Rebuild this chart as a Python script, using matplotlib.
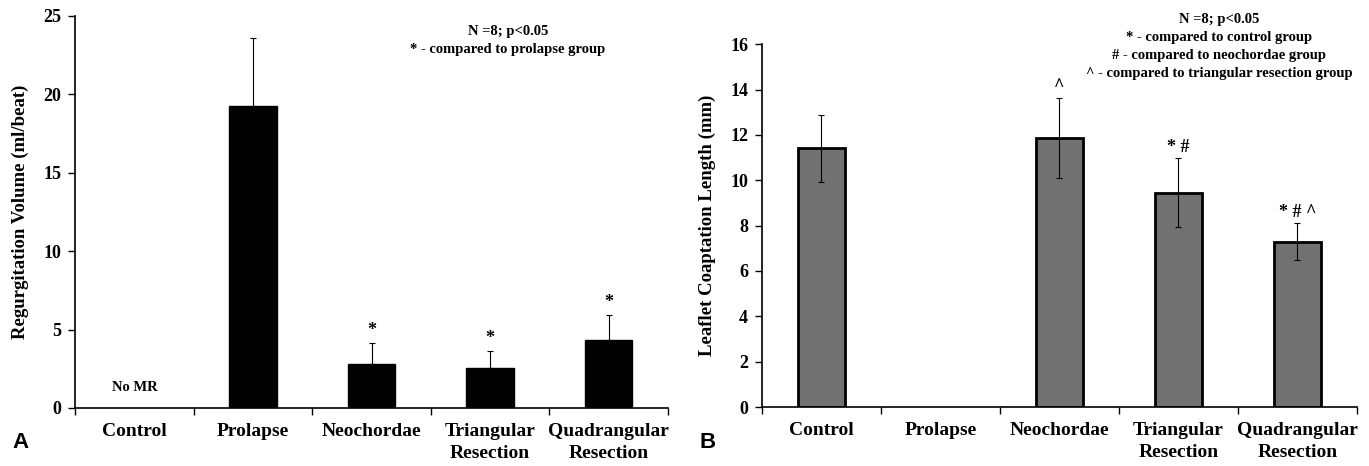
import numpy as np
import matplotlib
matplotlib.use("Agg")
import matplotlib.pyplot as plt

# data
groups = ["Control", "Prolapse", "Neochordae", "Triangular\nResection", "Quadrangular\nResection"]

regurg_mean = [0, 19.25, 2.8, 2.52, 4.35]
regurg_err = [0, 4.33, 1.33, 1.09, 1.58]
regurg_marks = ["", "", "*", "*", "*"]

coapt_mean = [11.42, 0, 11.88, 9.45, 7.29]
coapt_err = [1.48, 0, 1.77, 1.52, 0.82]
coapt_marks = ["", "", "^", "* #", "* # ^"]

plt.rcParams['font.family'] = ['Liberation Serif', 'DejaVu Serif']
plt.rcParams['font.weight'] = 'bold'

fig = plt.figure(figsize=(13.69, 4.66), dpi=100)
axA = fig.add_axes([0.0548, 0.1245, 0.4332, 0.8412])
axB = fig.add_axes([0.5566, 0.1266, 0.4346, 0.7784])

x = np.arange(len(groups))


def style_axis(ax, ymax, step):
    ax.set_xlim(-0.5, len(groups) - 0.5)
    ax.set_ylim(0, ymax)
    ax.set_yticks(np.arange(0, ymax + step / 2, step))
    ax.set_xticks(np.arange(-0.5, len(groups), 1.0))
    ax.set_xticklabels([])
    ax.set_xticks(x, minor=True)
    ax.set_xticklabels(groups, minor=True, fontsize=14, fontweight='bold', linespacing=1.35)
    ax.tick_params(axis='x', which='minor', length=0, pad=11)
    ax.tick_params(axis='x', which='major', length=5, width=1, direction='out')
    ax.tick_params(axis='y', length=5, width=1, direction='out', labelsize=13, pad=5)
    for lab in ax.get_yticklabels():
        lab.set_fontweight('bold')
    for s in ['top', 'right']:
        ax.spines[s].set_visible(False)
    for s in ['left', 'bottom']:
        ax.spines[s].set_linewidth(1.2)


# panel A
axA.bar(x[1:], regurg_mean[1:], width=0.4, color='black', edgecolor='black', zorder=2)
axA.errorbar(x[1:], regurg_mean[1:], yerr=[np.zeros(4), regurg_err[1:]], fmt='none',
             ecolor='black', elinewidth=0.8, capsize=2.5, capthick=0.8, zorder=3)
for xi, m, e, t in zip(x, regurg_mean, regurg_err, regurg_marks):
    if t:
        axA.text(xi, m + e + 0.25, t, ha='center', va='bottom', fontsize=13, fontweight='bold')
axA.text(0, 1.3, "No MR", ha='center', va='center', fontsize=10.5, fontweight='bold')
style_axis(axA, 25, 5)
axA.set_ylabel("Regurgitation Volume (ml/beat)", fontsize=13.5, fontweight='bold', labelpad=10)
axA.text(3.15, 24.45, "N =8; p<0.05\n* - compared to prolapse group", ha='center', va='top',
         fontsize=10.5, fontweight='bold', linespacing=1.5, clip_on=False)

# panel B
idx = [0, 2, 3, 4]
bx = x[idx]
bm = np.array(coapt_mean)[idx]
be = np.array(coapt_err)[idx]
axB.bar(bx, bm, width=0.4, color='#717171', edgecolor='black', linewidth=2, zorder=2)
axB.errorbar(bx, bm, yerr=be, fmt='none',
             ecolor='black', elinewidth=0.8, capsize=2.5, capthick=0.8, zorder=3)
for xi, m, e, t in zip(x, coapt_mean, coapt_err, coapt_marks):
    if t:
        axB.text(xi, m + e + 0.1, t, ha='center', va='bottom', fontsize=13, fontweight='bold')
style_axis(axB, 16, 2)
axB.set_ylabel("Leaflet Coaptation Length (mm)", fontsize=13.5, fontweight='bold', labelpad=10)
axB.text(3.34, 17.4, "N =8; p<0.05\n* - compared to control group\n# - compared to neochordae group\n"
         "^ - compared to triangular resection group", ha='center', va='top',
         fontsize=10.5, fontweight='bold', linespacing=1.5, clip_on=False)

fig.text(0.009, 0.028, "A", fontsize=16, fontfamily='Liberation Sans', fontweight='bold', ha='left', va='bottom')
fig.text(0.511, 0.028, "B", fontsize=16, fontfamily='Liberation Sans', fontweight='bold', ha='left', va='bottom')

fig.savefig("out.png", dpi=100)
